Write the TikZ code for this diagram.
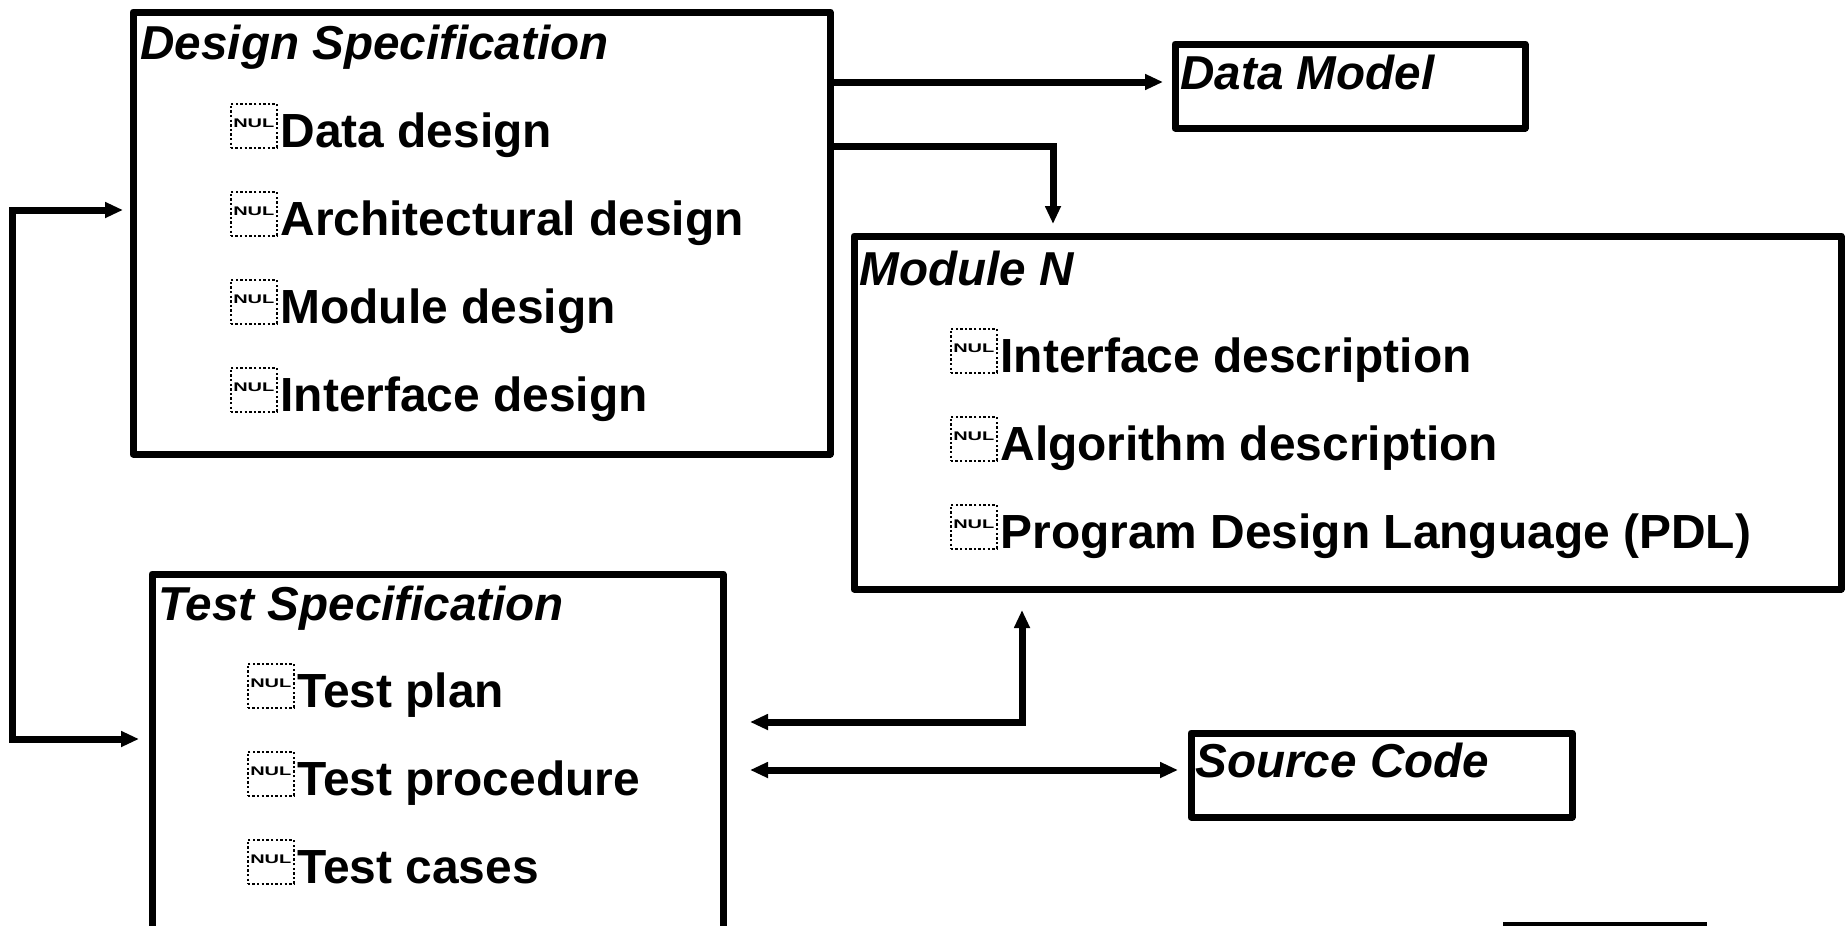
\documentclass[tikz,border=0pt]{standalone}
\usepackage{fontspec}
\setmainfont{Liberation Sans}
\usepackage{graphicx}
\usetikzlibrary{arrows.meta,positioning}

\newcommand{\nulmark}{\raisebox{5pt}{\scalebox{1.6}[1]{\bfseries NUL}}}

\begin{document}
\begin{tikzpicture}[
      x = 1pt, y = -1pt, % one unit is one pixel, y runs downwards
      > = {Triangle[length=18pt,width=15pt]}, % arrow head style
      line width = 7pt % line style
      ]

      \tikzset{
      box/.style = {draw = black, line width = 7pt, line join = round,
        rectangle, inner sep = 0pt, outer sep = 0pt, anchor = north west},
      title/.style = {font = \fontsize{47.6}{57}\selectfont\bfseries\itshape,
        inner sep = 0pt, anchor = base west},
      item/.style = {font = \fontsize{47.9}{57}\selectfont\bfseries,
        inner sep = 0pt, anchor = base west},
      nul/.style = {draw = black, line width = 2.4pt, dash pattern = on 2.4pt off 2.2pt,
        minimum width = 46pt, minimum height = 44pt, inner sep = 0pt,
        anchor = south east, font = \fontsize{12.5}{13}\selectfont}
      }

      \useasboundingbox (0,0) rectangle (1847,926);
      \clip (0,0) rectangle (1847,926);

      % boxes
      \node[box, minimum width = 697pt, minimum height = 442pt] (design) at (133,12) {};
      \node[box, minimum width = 350pt, minimum height = 84pt] (datamodel) at (1175,44) {};
      \node[box, minimum width = 987pt, minimum height = 353pt] (module) at (854,236) {};
      \node[box, minimum width = 571pt, minimum height = 420pt] (testspec) at (152,574) {};
      \node[box, minimum width = 381pt, minimum height = 84pt] (source) at (1191,733) {};

      % titles
      \node[title] (designtitle) at (137,59) {Design Specification};
      \node[title] (dmtitle) at (1177,89) {Data Model};
      \node[title] (moduletitle) at (856,285) {Module N};
      \node[title] (testtitle) at (155,620) {Test Specification};
      \node[title] (sourcetitle) at (1192,777) {Source Code};

      % items with their NUL marks
      \foreach \txt [count=\i] in {Data design, Architectural design, Module design, Interface design} {
        \node[item] (ditem\i) at (277, {59 + 88*\i}) {\txt};
        \node[nul] at ([xshift=1pt,yshift=-2pt]ditem\i.base west) {\nulmark};
      }
      \foreach \txt [count=\i] in {Interface description, Algorithm description, Program Design Language (PDL)} {
        \node[item] (mitem\i) at (997, {284 + 88*\i}) {\txt};
        \node[nul] at ([xshift=1pt,yshift=-2pt]mitem\i.base west) {\nulmark};
      }
      \foreach \txt [count=\i] in {Test plan, Test procedure, Test cases} {
        \node[item] (titem\i) at (294, {619 + 88*\i}) {\txt};
        \node[nul] at ([xshift=1pt,yshift=-2pt]titem\i.base west) {\nulmark};
      }

      % arrow ends
      \coordinate (dmtip) at (1163,82);
      \coordinate (modtip) at (1053,224);
      \coordinate (looptop) at (12,210);
      \coordinate (loopbot) at (12,739);
      \coordinate (designtip) at (123,210);
      \coordinate (testtip) at (139,739);
      \coordinate (moduptip) at (1022,610);
      \coordinate (testtipa) at (750,722);
      \coordinate (testtipb) at (750,770);
      \coordinate (sourcetip) at (1178,770);

      % connectors
      \draw[->] (design.east |- dmtip) -- (dmtip);
      \draw[->] (design.east |- 0,146) -| (modtip);
      \draw[<->] (designtip) -| (loopbot) -- (testtip);
      \draw[<->] (moduptip) |- (testtipa);
      \draw[<->] (testtipb) -- (sourcetip);

      \draw[line width = 4pt] (1503,924) -- (1707,924);

    \end{tikzpicture}
\end{document}
